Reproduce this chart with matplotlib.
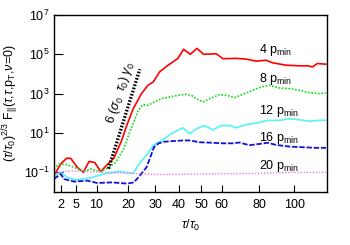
import numpy as np
import matplotlib
matplotlib.use("Agg")
import matplotlib.pyplot as plt

plt.rcParams['font.family'] = ['Liberation Sans', 'DejaVu Sans']
plt.rcParams['mathtext.fontset'] = 'custom'
plt.rcParams['mathtext.rm'] = 'Liberation Sans'
plt.rcParams['mathtext.it'] = 'Liberation Sans:italic'
plt.rcParams['mathtext.sf'] = 'Liberation Sans'


# curves: tau/tau0 and (tau/tau0)^(2/3) F

tau_4 = [1.0, 1.25, 2.0, 3.0, 3.8, 5.2, 6.6, 8.0, 9.5, 11.2, 13.1, 15.2, 17.7, 19.4,
         21.7, 24.7, 27.2, 29.2, 31.8, 35.3, 39.5, 42.0, 45.0, 48.1, 51.2, 57.4,
         60.7, 67.5, 72.8, 78.2, 83.7, 87.4, 95.1, 103, 108, 111, 114, 119.4]
f_4 = [0.08, 0.1, 0.27, 0.52, 0.52, 0.18, 0.1, 0.36, 0.32, 0.11, 0.25, 0.54, 4.2, 24,
       173, 1000, 2700, 3900, 12800, 28000, 62000, 180000, 100000, 200000, 100000, 106000,
       60000, 62000, 57000, 45000, 50000, 37000, 28000, 26000, 26000, 23000, 34000, 31500]

tau_8 = [1.0, 1.25, 1.73, 3.0, 4.5, 6.75, 8.4, 11.2, 13.6, 15.7, 18.4, 20.7, 23.5, 25.3,
         27.2, 29.2, 32.5, 36, 39.5, 43.2, 45.5, 47.8, 50.9, 54.1, 59, 62.4, 66.6, 71.9,
         76.3, 80.9, 85.6, 91.2, 97.1, 103, 109, 115.2, 119.4]
f_8 = [0.16, 0.18, 0.27, 0.25, 0.18, 0.11, 0.15, 0.11, 0.18, 0.32, 1.57, 13.5, 141, 277,
       255, 350, 560, 676, 825, 928, 825, 560, 375, 560, 895, 830, 631, 1007,
       1480, 2190, 2670, 1950, 1810, 1480, 1130, 1000, 1080]

tau_12 = [1.0, 1.4, 2.0, 3.2, 4.8, 8.25, 12.9, 17.1, 21.7, 24.1, 26.8, 29.4, 32.5, 36,
          38.8, 41.7, 44.7, 47.8, 51.7, 55.7, 59.9, 64, 67.5, 72.8, 78.2, 84.6, 91.2,
          97.1, 103, 109, 115.2, 119.4]
f_12 = [0.052, 0.083, 0.10, 0.055, 0.041, 0.052, 0.09, 0.11, 0.09, 0.3, 0.8, 2.5, 4.0, 8.4,
        12.4, 18.5, 9.1, 16.4, 24, 14.6, 24, 24, 18.5, 27, 32, 44, 44,
        53, 47, 40, 44, 44]

tau_16 = [1.0, 2.0, 2.55, 4.5, 7.6, 10.2, 14.6, 19.6, 21.9, 24.1, 26.6, 28.2, 29.5, 31.4,
          33.5, 36, 41.7, 44.7, 49.3, 55.7, 60.7, 65.7, 69.2, 74.5, 80, 84.6, 89.3,
          97.1, 105, 113.1, 119.4]
f_16 = [0.046, 0.083, 0.046, 0.034, 0.038, 0.029, 0.031, 0.027, 0.031, 0.068, 0.18, 0.65, 1.9, 3.0,
        3.6, 3.8, 4.2, 4.2, 3.4, 3.2, 3.0, 3.0, 3.3, 2.4, 2.8, 3.2, 2.5,
        2.05, 1.9, 1.77, 1.77]

tau_20 = [1.0, 2.0, 4.0, 8.3, 12.9, 19.5, 24, 30, 40, 55, 75, 90, 100, 119.4]
f_20 = [0.075, 0.11, 0.12, 0.11, 0.10, 0.09, 0.085, 0.078, 0.08, 0.085, 0.088, 0.095, 0.10, 0.10]

# growth line 6 (sigma0 tau0) gamma0
tau_g = [13.5, 24.1]
f_g = [0.155, 17500]

labels = [r'4 p$_{\rm min}$', r'8 p$_{\rm min}$', r'12 p$_{\rm min}$',
          r'16 p$_{\rm min}$', r'20 p$_{\rm min}$']
label_y = [1.1e5, 3900, 91, 4.0, 0.15]
x_ticks = [2, 5, 10, 20, 30, 40, 50, 60, 80, 100]
y_ticks = [1e-1, 1e1, 1e3, 1e5, 1e7]


def fwd(x):
    return np.sign(x) * np.abs(x) ** (2.0 / 3.0)


def inv(x):
    return np.sign(x) * np.abs(x) ** 1.5


fig = plt.figure(figsize=(3.5, 2.45), dpi=100)
ax = fig.add_axes([0.154, 0.216, 0.78, 0.723])

ax.plot(tau_4, f_4, color='#ff0000', lw=1.2, ls='-')
ax.plot(tau_8, f_8, color='#11dd11', lw=1.2, ls=(0, (1, 1)))
ax.plot(tau_12, f_12, color='#55f5f5', lw=1.2, ls='-')
ax.plot(tau_16, f_16, color='#1111dd', lw=1.3, ls=(0, (3, 1)))
ax.plot(tau_20, f_20, color='#ee77ee', lw=1.0, ls=(0, (1, 1.2)))
ax.plot(tau_g, f_g, color='black', lw=2.4, ls=(0, (0.5, 0.5)))

ax.text(17.4, 1170, r'6 ($\sigma_0\ \ \tau_0$) $\gamma_0$', rotation=72,
        ha='center', va='center', fontsize=9)

for lab, yy in zip(labels, label_y):
    ax.text(80, yy, lab, ha='left', va='baseline', fontsize=9)

ax.set_xscale('function', functions=(fwd, inv))
ax.set_yscale('log')
ax.set_xlim(1.0, 120)
ax.set_ylim(1e-2, 1e7)

ax.set_xticks(x_ticks)
ax.set_xticklabels([str(t) for t in x_ticks])
ax.set_yticks(y_ticks)
ax.set_yticklabels([r'10$^{-1}$', r'10$^{1}$', r'10$^{3}$', r'10$^{5}$', r'10$^{7}$'])
ax.minorticks_off()
ax.tick_params(axis='x', direction='in', length=5, width=0.8, labelsize=9, pad=5)
ax.tick_params(axis='y', direction='in', length=6.5, width=0.8, labelsize=9, pad=3)
for s in ax.spines.values():
    s.set_linewidth(1.0)

ax.set_xlabel(r'$\tau/\tau_0$', fontsize=9, labelpad=5)
ax.set_ylabel(r'$(\tau/\tau_0)^{2/3}$ F$_{||}$($\tau$,$\tau$,p$_{\rm T}$,$\nu$=0)', fontsize=9, labelpad=2)

fig.savefig('out.png', dpi=100)
